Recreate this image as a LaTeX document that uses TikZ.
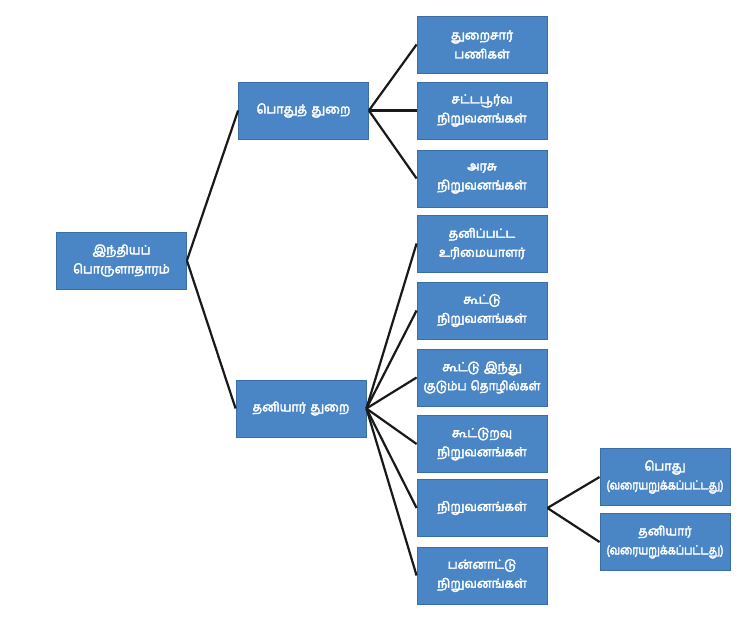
\documentclass[tikz,border=0pt]{standalone}
\usepackage{fontspec}
\newfontfamily\tamil[Script=Tamil,AutoFakeBold=3.2]{Hind Madurai}
\definecolor{boxfill}{HTML}{4A86C6}
\definecolor{boxline}{HTML}{3A6EA5}
\newcommand{\squeeze}[2]{\scalebox{#1}[1]{#2}}
\begin{document}
\begin{tikzpicture}[x=1pt,y=-1pt,
  box/.style={draw=boxline,line width=0.8pt,fill=boxfill,text=white,
    minimum width=130pt,text width=128pt,minimum height=57pt,inner sep=1pt,align=center,
    font=\tamil\bfseries\fontsize{12.5}{19}\selectfont},
  link/.style={draw=black!90,line width=2.2pt}]
\useasboundingbox (0,0) rectangle (756,638);
\node[box] (root) at (121.5,260.5) {இந்தியப்\\பொருளாதாரம்};
\node[box] (pub) at (303.5,110.5) {பொதுத் துறை};
\node[box] (pri) at (301,408.5) {தனியார் துறை};
\node[box] (a1) at (482,44.5) {துறைசார்\\பணிகள்};
\node[box] (a2) at (482,110.5) {சட்டபூர்வ\\நிறுவனங்கள்};
\node[box] (a3) at (482,178.5) {அரசு\\நிறுவனங்கள்};
\node[box] (b1) at (482,243.5) {தனிப்பட்ட\\உரிமையாளர்};
\node[box] (b2) at (482,310.5) {கூட்டு\\நிறுவனங்கள்};
\node[box] (b3) at (482,377.5) {கூட்டு இந்து\\\squeeze{0.93}{குடும்ப தொழில்கள்}};
\node[box] (b4) at (482,444) {கூட்டுறவு\\நிறுவனங்கள்};
\node[box] (b5) at (482,508) {நிறுவனங்கள்};
\node[box] (b6) at (482,575.5) {பன்னாட்டு\\நிறுவனங்கள்};
\node[box] (c1) at (665,477) {பொது\\\squeeze{0.83}{(வரையறுக்கப்பட்டது)}};
\node[box] (c2) at (665,542) {தனியார்\\\squeeze{0.83}{(வரையறுக்கப்பட்டது)}};
\foreach \t in {pub,pri} \draw[link] (root.east) -- (\t.west);
\foreach \t in {a1,a2,a3} \draw[link] (pub.east) -- (\t.west);
\foreach \t in {b1,b2,b3,b4,b5,b6} \draw[link] (pri.east) -- (\t.west);
\foreach \t in {c1,c2} \draw[link] (b5.east) -- (\t.west);
\end{tikzpicture}
\end{document}
